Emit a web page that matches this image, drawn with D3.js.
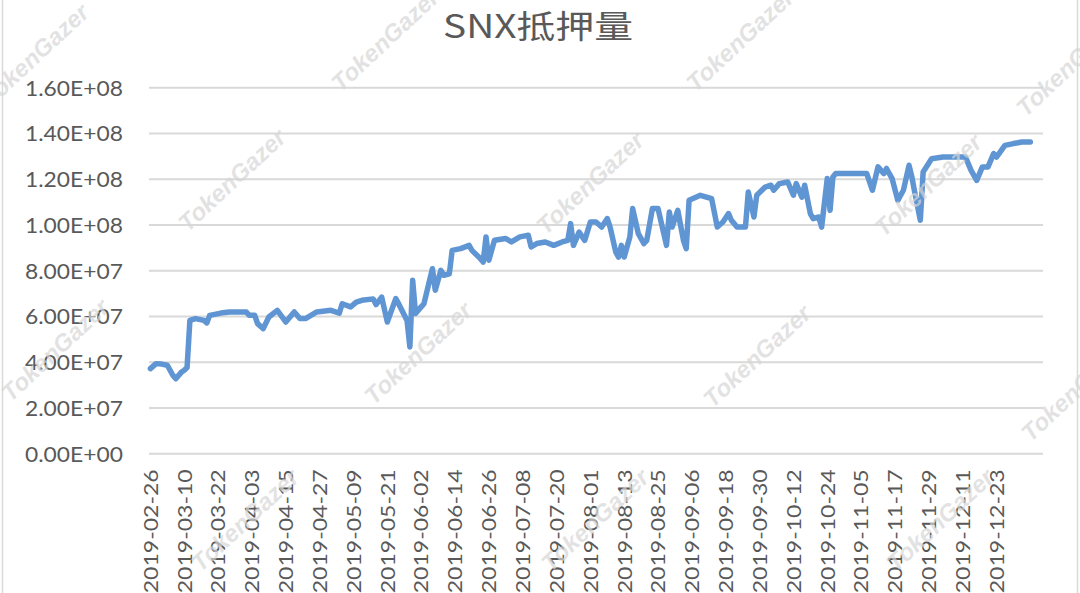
<!DOCTYPE html>
<html>
<head>
<meta charset="utf-8">
<script src="https://cdn.jsdelivr.net/npm/d3@7"></script>
<style>
  html, body { margin: 0; padding: 0; background: #fff; }
  svg { display: block; }
</style>
</head>
<body>
<svg id="chart" width="1080" height="593"></svg>
<script>
// ---------------- DATA ----------------
const chartTitle = "SNX抵押量";
const firstCategory = "2019-02-26";
const categoryCount = 317;          // daily categories on the x axis

const tickLabels = [
  "2019-02-26","2019-03-10","2019-03-22","2019-04-03","2019-04-15","2019-04-27",
  "2019-05-09","2019-05-21","2019-06-02","2019-06-14","2019-06-26","2019-07-08",
  "2019-07-20","2019-08-01","2019-08-13","2019-08-25","2019-09-06","2019-09-18",
  "2019-09-30","2019-10-12","2019-10-24","2019-11-05","2019-11-17","2019-11-29",
  "2019-12-11","2019-12-23"
];

const yTicks = [0, 20, 40, 60, 80, 100, 120, 140, 160]; // millions

const dates = [
  "2019-02-26","2019-02-28","2019-03-02","2019-03-04","2019-03-06","2019-03-07","2019-03-09","2019-03-10",
  "2019-03-11","2019-03-12","2019-03-14","2019-03-17","2019-03-18","2019-03-19","2019-03-23","2019-03-26",
  "2019-04-01","2019-04-02","2019-04-04","2019-04-05","2019-04-07","2019-04-09","2019-04-12","2019-04-15",
  "2019-04-18","2019-04-20","2019-04-22","2019-04-26","2019-05-01","2019-05-04","2019-05-05","2019-05-08",
  "2019-05-10","2019-05-12","2019-05-16","2019-05-17","2019-05-19","2019-05-21","2019-05-24","2019-05-25",
  "2019-05-28","2019-05-29","2019-05-30","2019-05-31","2019-06-02","2019-06-03","2019-06-06","2019-06-07",
  "2019-06-09","2019-06-10","2019-06-12","2019-06-13","2019-06-16","2019-06-19","2019-06-20","2019-06-23",
  "2019-06-24","2019-06-25","2019-06-26","2019-06-28","2019-07-02","2019-07-04","2019-07-07","2019-07-10",
  "2019-07-11","2019-07-13","2019-07-16","2019-07-19","2019-07-22","2019-07-24","2019-07-25","2019-07-26",
  "2019-07-28","2019-07-30","2019-08-01","2019-08-03","2019-08-05","2019-08-07","2019-08-08","2019-08-10",
  "2019-08-11","2019-08-12","2019-08-13","2019-08-15","2019-08-16","2019-08-18","2019-08-20","2019-08-21",
  "2019-08-23","2019-08-25","2019-08-28","2019-08-29","2019-08-30","2019-09-01","2019-09-03","2019-09-04",
  "2019-09-05","2019-09-09","2019-09-13","2019-09-15","2019-09-17","2019-09-19","2019-09-20","2019-09-22",
  "2019-09-25","2019-09-26","2019-09-28","2019-09-29","2019-10-02","2019-10-04","2019-10-05","2019-10-07",
  "2019-10-10","2019-10-12","2019-10-13","2019-10-15","2019-10-16","2019-10-18","2019-10-19","2019-10-21",
  "2019-10-22","2019-10-24","2019-10-25","2019-10-26","2019-10-27","2019-11-02","2019-11-07","2019-11-09",
  "2019-11-11","2019-11-13","2019-11-14","2019-11-16","2019-11-18","2019-11-20","2019-11-22","2019-11-23",
  "2019-11-24","2019-11-26","2019-11-27","2019-11-30","2019-12-04","2019-12-10","2019-12-12","2019-12-14",
  "2019-12-16","2019-12-18","2019-12-20","2019-12-22","2019-12-23","2019-12-26","2019-12-29","2020-01-01",
  "2020-01-04"
];

// SNX collateral, in millions
const collateralMillions = [
  37.0, 39.2, 39.0, 38.5, 34.0, 32.6, 35.5, 36.3,
  37.5, 58.1, 58.9, 58.1, 57.0, 60.3, 61.3, 61.8,
  61.8, 60.3, 60.3, 56.7, 54.5, 59.6, 62.5, 57.4,
  61.8, 58.9, 58.9, 61.8, 62.5, 61.3, 65.4, 64.0,
  66.1, 66.9, 67.5, 65.0, 68.3, 57.4, 67.6, 65.4,
  58.1, 46.5, 75.6, 61.1, 64.0, 65.4, 80.7, 71.3,
  80.0, 77.8, 78.5, 88.7, 89.5, 90.9, 88.7, 85.1,
  83.6, 94.6, 84.4, 93.1, 93.9, 92.4, 94.6, 95.3,
  90.2, 91.7, 92.4, 90.9, 92.4, 93.1, 100.4, 90.9,
  96.7, 93.1, 101.1, 101.1, 98.9, 102.6, 98.9, 88.0,
  85.8, 90.9, 85.8, 94.6, 107.0, 96.0, 91.7, 93.1,
  107.0, 107.0, 90.9, 105.5, 98.9, 106.2, 93.1, 89.5,
  110.6, 112.8, 111.3, 98.9, 101.1, 104.8, 101.9, 98.9,
  98.9, 114.2, 103.3, 112.8, 116.4, 117.2, 115.0, 117.9,
  118.6, 112.8, 117.9, 112.0, 117.2, 104.8, 102.6, 103.3,
  98.9, 120.1, 106.2, 120.8, 122.3, 122.3, 122.3, 115.0,
  125.2, 122.3, 124.5, 120.1, 110.6, 115.0, 125.9, 120.8,
  114.2, 101.9, 123.0, 128.8, 129.5, 129.5, 129.5, 123.7,
  119.3, 125.2, 125.2, 131.0, 129.5, 134.6, 135.4, 136.1,
  136.1
];

const watermarkText = "TokenGazer";

// ---------------- DRAW ----------------
const svg = d3.select("#chart");
const W = 1080, H = 593;
const plot = { left: 149, right: 1043, top: 87.3, bottom: 453.3 };

const parse = d3.utcParse("%Y-%m-%d");
const start = parse(firstCategory);
const DAY = 864e5;

const x = d3.scaleUtc()
  .domain([new Date(+start - 0.5 * DAY), new Date(+start + (categoryCount - 0.5) * DAY)])
  .range([plot.left, plot.right]);

const y = d3.scaleLinear()
  .domain([0, 160])
  .range([plot.bottom, plot.top]);

const fmtSci = m => {
  const v = m * 1e6;
  if (v === 0) return "0.00E+00";
  const e = Math.floor(Math.log10(v));
  const mant = v / Math.pow(10, e);
  return mant.toFixed(2) + "E+" + String(e).padStart(2, "0");
};

// chart border
svg.append("rect")
  .attr("x", 2.5).attr("y", -5).attr("width", 1075).attr("height", H + 10)
  .attr("fill", "#fff").attr("stroke", "#d9d9d9").attr("stroke-width", 1.5);

// gridlines + y labels
const yAxis = d3.axisLeft(y).tickValues(yTicks).tickSize(-(plot.right - plot.left)).tickFormat(fmtSci).tickPadding(26);
const gy = svg.append("g").attr("transform", `translate(${plot.left},0)`).call(yAxis);
gy.select(".domain").remove();
gy.selectAll(".tick line").attr("stroke", "#d9d9d9").attr("stroke-width", 2);
gy.selectAll(".tick text")
  .attr("fill", "#595959")
  .attr("font-family", "Lato, 'Liberation Sans', sans-serif")
  .attr("font-size", 22)
  .attr("textLength", 98)
  .attr("lengthAdjust", "spacingAndGlyphs")
  .attr("dy", "0.36em");

// x labels
const tickDates = tickLabels.map(parse);
const xAxis = d3.axisBottom(x).tickValues(tickDates).tickSize(0)
  .tickFormat((d, i) => tickLabels[i]);
const gx = svg.append("g").attr("transform", `translate(0,${plot.bottom})`).call(xAxis);
gx.select(".domain").remove();
gx.selectAll(".tick text")
  .attr("fill", "#595959")
  .attr("font-family", "Lato, 'Liberation Sans', sans-serif")
  .attr("font-size", 19)
  .attr("text-anchor", "end")
  .attr("textLength", 124)
  .attr("lengthAdjust", "spacingAndGlyphs")
  .attr("transform", "translate(0,16) rotate(-90)")
  .attr("x", 0).attr("y", 0).attr("dy", "0.36em");

// line
const line = d3.line()
  .x((d, i) => x(parse(dates[i])))
  .y(d => y(d))
  .curve(d3.curveLinear);

svg.append("path")
  .datum(collateralMillions)
  .attr("d", line)
  .attr("fill", "none")
  .attr("stroke", "#6095d3")
  .attr("stroke-width", 5.5)
  .attr("stroke-linejoin", "round")
  .attr("stroke-linecap", "round");

// title
svg.append("text")
  .attr("x", 538).attr("y", 38)
  .attr("text-anchor", "middle")
  .attr("fill", "#595959")
  .attr("font-family", "'Noto Sans CJK SC', sans-serif")
  .attr("font-size", 32)
  .attr("textLength", 190)
  .attr("lengthAdjust", "spacingAndGlyphs")
  .text(chartTitle);

// watermarks
const wmCenters = [
  [35, 55], [385, 40], [740, 40], [1070, 65],
  [232, 180], [590, 183], [928, 185],
  [55, 350], [418, 353], [757, 356], [1075, 390],
  [245, 520], [595, 520], [940, 520]
];
svg.append("g").selectAll("text").data(wmCenters).join("text")
  .attr("transform", d => `translate(${d[0]},${d[1]}) rotate(-43)`)
  .attr("text-anchor", "middle")
  .attr("dy", "0.35em")
  .attr("fill", "#d6d6d6")
  .attr("fill-opacity", 0.7)
  .attr("font-family", "'Liberation Sans', sans-serif")
  .attr("font-weight", "bold")
  .attr("font-style", "italic")
  .attr("font-size", 24)
  .text(watermarkText);
</script>
</body>
</html>
